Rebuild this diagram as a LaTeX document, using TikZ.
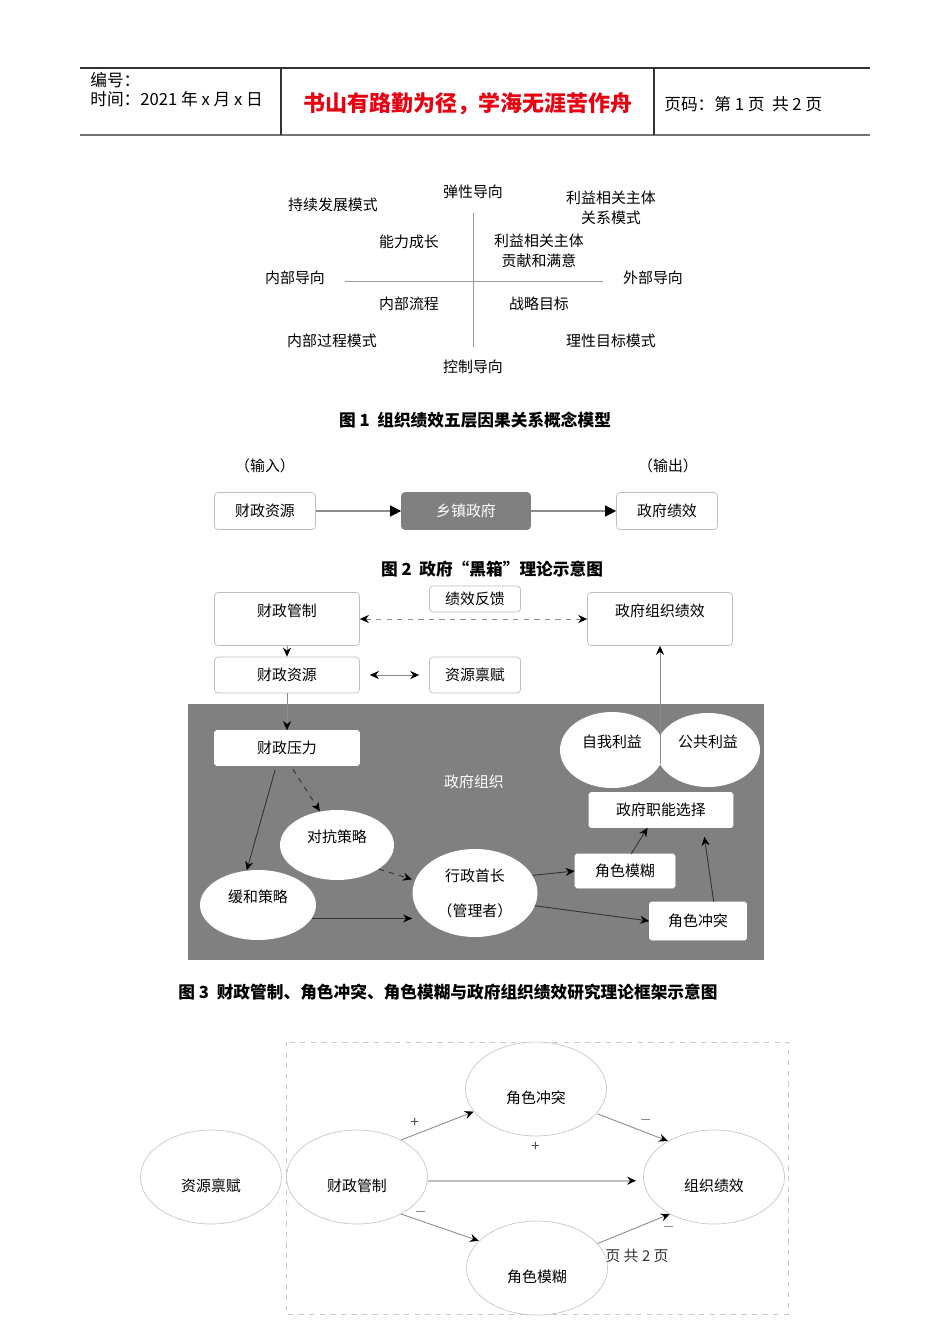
\documentclass[tikz,border=0pt]{standalone}
\usepackage{fontspec}
\setmainfont{Noto Sans CJK SC}
\usetikzlibrary{arrows.meta, positioning, shapes.geometric}

\begin{document}
\begin{tikzpicture}[x=0.02cm, y=-0.02cm,
    >={Stealth[length=1.8mm, width=1.6mm, black]},
    txt/.style={font=\fontsize{8.5}{11}\selectfont, inner sep=1pt, align=center},
    box/.style={draw=boxline, rounded corners=2pt, fill=white, txt},
    wbox/.style={draw=white, rounded corners=1pt, fill=white, txt},
    oval/.style={ellipse, draw=none, fill=white, txt, inner sep=0pt, text depth=0.35cm},
    ring/.style={ellipse, draw=ringline, fill=white, txt, inner sep=0pt,
                 minimum width=2.82cm, minimum height=1.88cm, text height=0.6cm},
    arr/.style={->, draw=lineg, line width=0.5pt},
    darr/.style={->, draw=lineg, dashed, line width=0.5pt},
    inarr/.style={->, draw=lined, line width=0.5pt},
    indarr/.style={->, draw=lined, dashed, line width=0.5pt},
    tarr/.style={-{Triangle[length=2.2mm, width=2.2mm, black]}, draw=lineg, line width=0.6pt},
    lbl/.style={font=\fontsize{8.5}{11}\selectfont, inner sep=2pt, text=black!70},
    figcap/.style={font=\fontsize{9.5}{12}\selectfont\bfseries, inner sep=0pt},
    hdr/.style={font=\fontsize{9.5}{12}\selectfont, inner sep=0pt, anchor=west},
]
\definecolor{boxline}{HTML}{BFBFBF}  % 方框边线
\definecolor{ringline}{HTML}{C8C8C8} % 椭圆边线
\definecolor{lineg}{HTML}{8C8C8C}    % 连线
\definecolor{lined}{HTML}{333333}    % 灰底上的连线
\definecolor{boxg}{HTML}{808080}     % 灰色底
\definecolor{hdred}{HTML}{E60012}    % 页眉红字
\useasboundingbox (0,0) rectangle (950,1344);

% ---- 页眉 ----
\draw[black!80, line width=0.6pt] (80,68) -- (870,68);
\draw[black!55, line width=1.2pt] (80,135) -- (870,135);
\draw[black!80, line width=0.6pt] (281,68) -- (281,135);
\draw[black!80, line width=0.6pt] (654,68) -- (654,135);
\node[hdr] (bh) at (90,80) {编号：};
\node[hdr] (sj) at (90,99) {时间：2021 年 x 月 x 日};
\node[font=\fontsize{12.5}{15}\selectfont\bfseries, text=hdred, inner sep=0pt] (motto) at (468,104) {书山有路勤为径，学海无涯苦作舟};
\node[hdr] (ym) at (664,104) {页码：第 1 页\ \ 共 2 页};

% ---- 图1 ----
\node[txt] (up)  at (473,192) {弹性导向};
\node[txt] (dn)  at (473,367) {控制导向};
\node[txt] (lt)  at (295,278) {内部导向};
\node[txt] (rt)  at (653,278) {外部导向};
\coordinate (vt) at (473,213);
\coordinate (vb) at (473,347);
\coordinate (hl) at (345,281);
\coordinate (hr) at (603,281);
\draw[black!40, line width=0.5pt] (vt) -- (vb);
\draw[black!40, line width=0.5pt] (hl) -- (hr);
\node[txt] (m1) at (333,205) {持续发展模式};
\node[txt] (m2) at (611,208) {利益相关主体\\关系模式};
\node[txt] (m3) at (332,341) {内部过程模式};
\node[txt] (m4) at (611,341) {理性目标模式};
\node[txt] (q1) at (409,242) {能力成长};
\node[txt] (q2) at (539,251) {利益相关主体\\贡献和满意};
\node[txt] (q3) at (409,304) {内部流程};
\node[txt] (q4) at (539,304) {战略目标};
\node[figcap] (cap1) at (475,420) {图 1\ \ 组织绩效五层因果关系概念模型};

% ---- 图2 ----
\node[txt] (in)  at (265,466) {（输入）};
\node[txt] (out) at (668,466) {（输出）};
\node[box, minimum width=2.02cm, minimum height=0.74cm] (cy2) at (265,511) {财政资源};
\node[box, draw=boxg, fill=boxg, text=white, minimum width=2.58cm, minimum height=0.74cm] (xz2) at (466,511) {乡镇政府};
\node[box, minimum width=2.02cm, minimum height=0.74cm] (jx2) at (667,511) {政府绩效};
\draw[tarr] (cy2) -- (xz2);
\draw[tarr] (xz2) -- (jx2);
\node[figcap] (cap2) at (492,569) {图 2\ \ 政府“黑箱”理论示意图};

% ---- 图3 ----
\node[box, minimum width=2.9cm, minimum height=1.06cm, text depth=0.34cm] (gz3) at (287,619) {财政管制};
\node[box, minimum width=1.82cm, minimum height=0.52cm] (fk3) at (475,599) {绩效反馈};
\node[box, minimum width=2.9cm, minimum height=1.06cm, text depth=0.34cm] (zzjx) at (660,619) {政府组织绩效};
\node[box, minimum width=2.9cm, minimum height=0.72cm] (zy3) at (287,675) {财政资源};
\node[box, minimum width=1.82cm, minimum height=0.72cm] (bf3) at (475,675) {资源禀赋};
\draw[darr, <->] (gz3) -- (zzjx);
\draw[arr] (gz3) -- (zy3);
\draw[arr, <->, shorten <=0.2cm, shorten >=0.2cm] (zy3) -- (bf3);

\fill[boxg] (188,704) rectangle (764,960);
\node[txt, text=white] (zf) at (474,782) {政府组织};
\node[wbox, minimum width=2.9cm, minimum height=0.7cm] (yl3) at (287,748) {财政压力};
\node[oval, minimum width=2.08cm, minimum height=1.52cm] (zw) at (612,750) {自我利益};
\node[oval, minimum width=2.08cm, minimum height=1.48cm] (gg) at (708,750) {公共利益};
\node[wbox, minimum width=2.88cm, minimum height=0.7cm] (zn3) at (661,810) {政府职能选择};
\node[wbox, minimum width=2.0cm, minimum height=0.68cm] (jm3) at (625,871) {角色模糊};
\node[wbox, minimum width=1.94cm, minimum height=0.76cm] (jc3) at (698,921) {角色冲突};
\node[oval, minimum width=2.28cm, minimum height=1.4cm] (dk3) at (337,845) {对抗策略};
\node[oval, minimum width=2.32cm, minimum height=1.4cm] (hh3) at (258,905) {缓和策略};
\node[oval, minimum width=2.5cm, minimum height=1.76cm, text depth=0pt] (xz3) at (475,893) {行政首长\\[9pt]（管理者）};
\coordinate (lyjc) at (660,764);

\draw[arr] (zy3) -- (yl3);
\draw[arr] (lyjc) -- (zzjx);
\draw[inarr, shorten <=0.08cm] (yl3.239) -- (hh3.108);
\draw[indarr, shorten <=0.08cm] (yl3.282) -- (dk3.117);
\draw[indarr, shorten >=0.06cm] (dk3.330) -- (xz3.168);
\draw[inarr] (hh3.-14) -- (hh3.-14 -| xz3.west);
\draw[inarr] (xz3.17) -- (jm3.west);
\draw[inarr] (xz3.-12) -- (jc3.west);
\draw[inarr] (jm3.70) -- (zn3.233);
\draw[inarr, shorten >=0.18cm] (jc3.51) -- (zn3.-23);
\node[figcap] (cap3) at (448,992) {图 3\ \ 财政管制、角色冲突、角色模糊与政府组织绩效研究理论框架示意图};

% ---- 图4 ----
\draw[ringline, dashed, line width=0.5pt] (286,1042) rectangle (788,1314);
\node[lbl, text=black!80] (yj) at (637,1256) {页\ 共\ 2\ 页};
\node[ring] (bf4) at (211,1177) {资源禀赋};
\node[ring] (gz4) at (357,1177) {财政管制};
\node[ring] (jc4) at (536,1089) {角色冲突};
\node[ring] (jx4) at (714,1177) {组织绩效};
\node[ring] (jm4) at (537,1268) {角色模糊};

\draw[arr] (gz4.40) -- node[lbl, pos=0.3, above left]{+} (jc4.200);
\draw[arr, shorten <=0.02cm] (jc4.-22) -- node[lbl, pos=0.55, above right]{$-$} (jx4.142);
\draw[arr, draw=black!25, line width=1.2pt, shorten >=0.14cm] (gz4.east |- gz4.-3) -- node[lbl, above=0.5cm]{+} (jx4.west |- gz4.-3);
\draw[arr] (gz4.-40) -- node[lbl, pos=0.25, above]{$-$} (jm4.155);
\draw[arr] (jm4.22) -- node[lbl, pos=0.85, below right]{$-$} (jx4.-140);
\end{tikzpicture}
\end{document}
